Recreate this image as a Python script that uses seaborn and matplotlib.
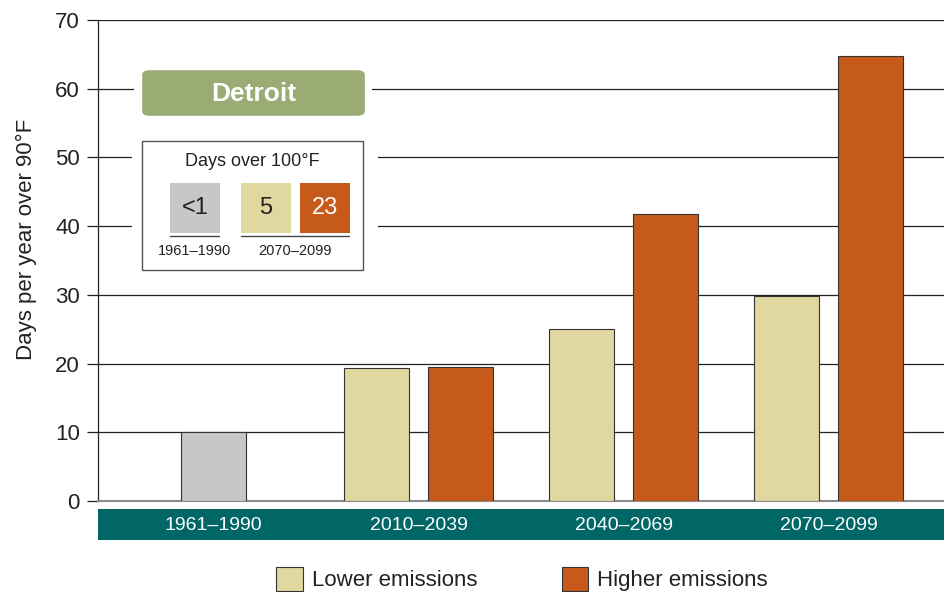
import pandas as pd
import seaborn as sns
from matplotlib import pyplot as plt
from matplotlib.patches import Patch, Rectangle, FancyBboxPatch


# chart values
periods = ['1961–1990', '2010–2039', '2040–2069', '2070–2099']
historical_days = [10.0]
lower_days = [19.4, 25.0, 29.8]
higher_days = [19.5, 41.8, 64.8]
y_ticks = [0, 10, 20, 30, 40, 50, 60, 70]

# inset: days over 100F
inset_values = ['<1', '5', '23']
inset_periods = ['1961–1990', '2070–2099']

city = 'Detroit'

gray = '#c6c7c9'
tan = '#e0d89e'
orange = '#c65a1a'
teal = '#006666'
olive = '#9aab74'
ink = '#222222'

# tidy table for seaborn
rows = [(periods[0], 'Historical', historical_days[0])]
for p, lo, hi in zip(periods[1:], lower_days, higher_days):
    rows.append((p, 'Lower emissions', lo))
    rows.append((p, 'Higher emissions', hi))
df = pd.DataFrame(rows, columns=['period', 'scenario', 'days'])

sns.set_style('white')
plt.rcParams['font.family'] = ['Liberation Sans', 'DejaVu Sans']

W, H = 944, 592
fig = plt.figure(figsize=(W / 100, H / 100), dpi=100)
ax = fig.add_axes([98 / W, 1 - 501 / H, 846 / W, 481 / H])


def fx(px):
    return px / W


def fy(py):
    return 1 - py / H


sns.barplot(data=df, x='period', y='days', hue='scenario',
            order=periods,
            hue_order=['Lower emissions', 'Historical', 'Higher emissions'],
            palette={'Lower emissions': tan, 'Historical': gray,
                     'Higher emissions': orange},
            width=0.615, dodge=True, saturation=1,
            edgecolor='#333333', linewidth=0.8,
            legend=False, ax=ax, zorder=3)

# widen bars around their slot centres
bar_w = 0.317
for cont in ax.containers:
    for p in cont:
        c = p.get_x() + p.get_width() / 2
        p.set_width(bar_w)
        p.set_x(c - bar_w / 2)

ax.set_xlim(-0.563, 3.563)
ax.set_ylim(0, 70)
ax.set_yticks(y_ticks)
ax.set_yticklabels([str(t) for t in y_ticks], fontsize=16, color=ink)
ax.grid(axis='y', color=ink, linewidth=0.9, zorder=0)
ax.set_axisbelow(True)
ax.tick_params(axis='y', length=8, width=0.9, color=ink, pad=5, left=True)
ax.set_xticks([])
ax.set_xlabel('')
ax.set_ylabel('Days per year over 90°F', fontsize=16, color=ink)
ax.yaxis.set_label_coords(-0.072, 0.543)

for s in ['top', 'right']:
    ax.spines[s].set_visible(False)
ax.spines['left'].set_color(ink)
ax.spines['left'].set_linewidth(0.9)
ax.spines['bottom'].set_color('#8a8a8a')
ax.spines['bottom'].set_linewidth(1.5)

# teal band with period labels
band = Rectangle((0, -(540 - 501) / 481), 1, (540 - 509) / 481,
                 transform=ax.transAxes, facecolor=teal, edgecolor='none',
                 clip_on=False, zorder=1)
ax.add_patch(band)
for i, p in enumerate(periods):
    ax.text(i, -(525 - 501) / 481, p, transform=ax.get_xaxis_transform(),
            ha='center', va='center', color='white', fontsize=14, zorder=5)

# city label box (white mask behind to break gridlines)
fig.patches.append(Rectangle((fx(134), fy(122)), fx(372) - fx(134), fy(64) - fy(122),
                             transform=fig.transFigure, facecolor='white',
                             edgecolor='none', zorder=5))
fig.patches.append(FancyBboxPatch((fx(145), fy(114)), fx(362) - fx(145), fy(72) - fy(114),
                                  boxstyle='round,pad=0.003,rounding_size=0.008',
                                  transform=fig.transFigure, facecolor=olive,
                                  edgecolor='none', zorder=6))
fig.text(fx(254), fy(94), city, ha='center', va='center', color='white',
         fontsize=19, fontweight='bold', zorder=7)

# inset box: days over 100F
fig.patches.append(Rectangle((fx(132), fy(278)), fx(378) - fx(132), fy(132) - fy(278),
                             transform=fig.transFigure, facecolor='white',
                             edgecolor='none', zorder=5))
fig.patches.append(Rectangle((fx(142), fy(270)), fx(363) - fx(142), fy(141) - fy(270),
                             transform=fig.transFigure, facecolor='white',
                             edgecolor='#555555', linewidth=1.0, zorder=6))
fig.text(fx(252), fy(161), 'Days over 100°F', ha='center', va='center',
         fontsize=13, color=ink, zorder=7)

sq_left = [170, 241, 300]
sq_colors = [gray, tan, orange]
txt_colors = [ink, ink, 'white']
for left, c, v, tc in zip(sq_left, sq_colors, inset_values, txt_colors):
    fig.patches.append(Rectangle((fx(left), fy(233)), fx(50), fy(183) - fy(233),
                                 transform=fig.transFigure, facecolor=c,
                                 edgecolor='none', zorder=7))
    fig.text(fx(left + 25), fy(208), v, ha='center', va='center',
             fontsize=17, color=tc, zorder=8)

for (x0, x1), lab in zip([(170, 219), (241, 349)], inset_periods):
    fig.add_artist(plt.Line2D([fx(x0), fx(x1)], [fy(236), fy(236)],
                              transform=fig.transFigure, color='#444444',
                              linewidth=1.0, zorder=8))
    fig.text(fx((x0 + x1) / 2), fy(251), lab, ha='center', va='center',
             fontsize=10.5, color=ink, zorder=8)

# legend at the bottom
handles = [Patch(facecolor=tan, edgecolor='#333333', linewidth=0.8),
           Patch(facecolor=orange, edgecolor='#333333', linewidth=0.8)]
leg = fig.legend(handles, ['Lower emissions', 'Higher emissions'],
                 loc='upper center', bbox_to_anchor=(0.553, fy(558)), ncol=2,
                 frameon=False, fontsize=16, handlelength=1.2, handleheight=1.3,
                 columnspacing=3.8, handletextpad=0.4, borderaxespad=0)
for t in leg.get_texts():
    t.set_color(ink)

fig.savefig('out.png', dpi=100)
